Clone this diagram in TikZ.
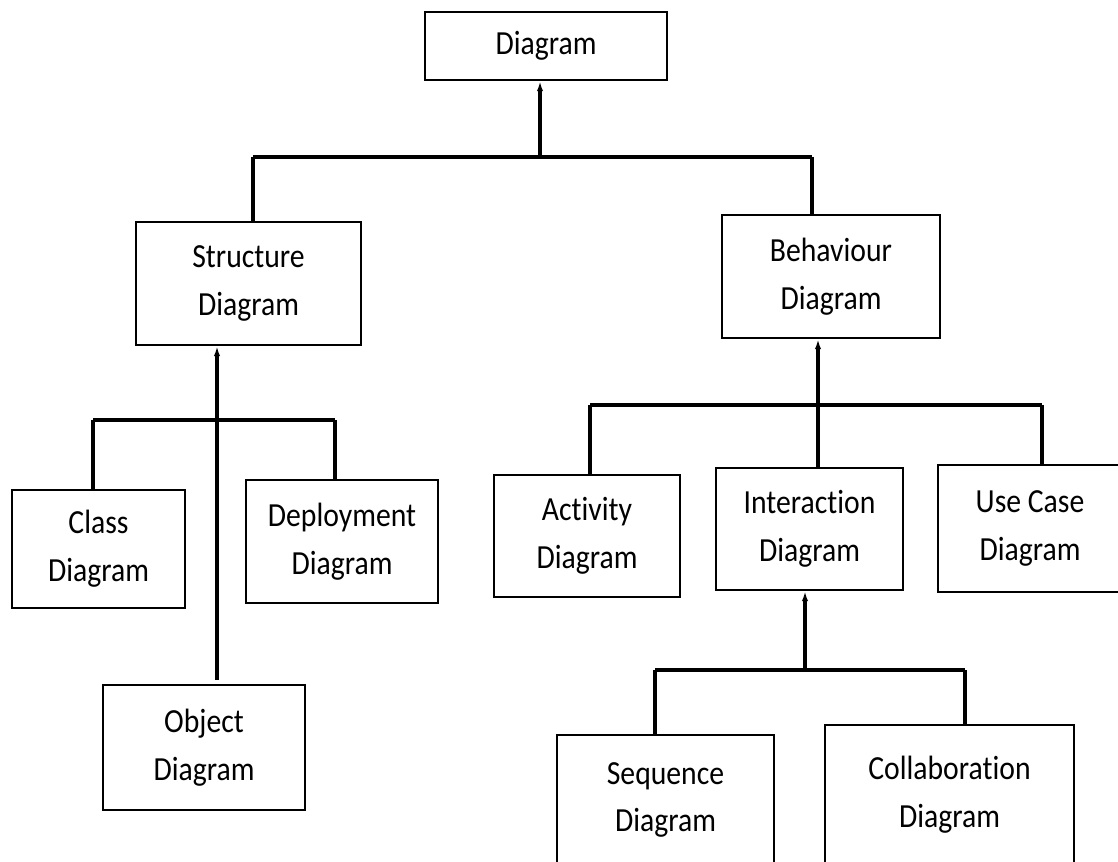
\documentclass[tikz,border=0pt]{standalone}
\usepackage{fontspec}
\setmainfont{Carlito}[FakeStretch=0.88,Ligatures=NoCommon]
\usepackage{tikz}
\usetikzlibrary{calc,arrows.meta}

\tikzset{
  umlbox/.style={draw, line width=0.6mm, align=center, inner sep=0pt,
    font=\fontsize{24}{34}\selectfont},
  bus/.style={line width=1.1mm},
  stem/.style={line width=1mm, -{Latex[length=2.5mm,width=1.6mm]}},
}

\begin{document}
\begin{tikzpicture}[x=0.25mm,y=-0.25mm]
        \useasboundingbox (0,0) rectangle (1118,862);
        % boxes
        \node[umlbox,minimum width=60.5mm,minimum height=17mm] (diag) at (546,46) {Diagram};
        \node[umlbox,minimum width=56.25mm,minimum height=30.75mm] (struct) at (248.5,283.5) {Structure\\Diagram};
        \node[umlbox,minimum width=54.5mm,minimum height=30.75mm] (behav) at (831,276.5) {Behaviour\\Diagram};
        \node[umlbox,minimum width=43.25mm,minimum height=29.5mm] (class) at (98.5,549) {Class\\Diagram};
        \node[umlbox,minimum width=48mm,minimum height=30.75mm] (deploy) at (342,541.5) {Deployment\\Diagram};
        \node[umlbox,minimum width=50.5mm,minimum height=31.25mm] (object) at (204,747.5) {Object\\Diagram};
        \node[umlbox,minimum width=46.5mm,minimum height=30.5mm] (activity) at (587,536) {Activity\\Diagram};
        \node[umlbox,minimum width=46.75mm,minimum height=30.5mm] (inter) at (809.5,529) {Interaction\\Diagram};
        \node[umlbox,minimum width=46mm,minimum height=31.75mm] (usecase) at (1030,528.5) {Use Case\\Diagram};
        \node[umlbox,minimum width=54.25mm,minimum height=32.5mm] (seq) at (665.5,800) {Sequence\\Diagram};
        \node[umlbox,minimum width=62.25mm,minimum height=35mm] (collab) at (949.5,795) {Collaboration\\Diagram};
        % bus junctions
        \coordinate (top) at (540,157);
        \coordinate (topL) at (253,157);
        \coordinate (topR) at (812,157);
        \coordinate (sMid) at (217,420);
        \coordinate (sL) at (93,420);
        \coordinate (sR) at (335,420);
        \coordinate (sEnd) at (217,680);
        \coordinate (bMid) at (818,405);
        \coordinate (bL) at (590,405);
        \coordinate (bR) at (1042,405);
        \coordinate (iMid) at (805,670);
        \coordinate (iL) at (655,670);
        \coordinate (iR) at (965,670);
        % Diagram
        \draw[stem] (top) -- (diag.south -| top);
        \draw[bus] (topL) -- (topR);
        \draw[bus] (topL) -- (struct.north -| topL);
        \draw[bus] (topR) -- (behav.north -| topR);
        % Structure
        \draw[stem] (sEnd) -- (struct.south -| sEnd);
        \draw[bus] (sL) -- (sR);
        \draw[bus] (sL) -- (class.north -| sL);
        \draw[bus] (sR) -- (deploy.north -| sR);
        % Behaviour
        \draw[stem] (inter.north -| bMid) -- (behav.south -| bMid);
        \draw[bus] (bL) -- (bR);
        \draw[bus] (bL) -- (activity.north -| bL);
        \draw[bus] (bR) -- (usecase.north -| bR);
        % Interaction
        \draw[stem] (iMid) -- (inter.south -| iMid);
        \draw[bus] (iL) -- (iR);
        \draw[bus] (iL) -- (seq.north -| iL);
        \draw[bus] (iR) -- (collab.north -| iR);
\end{tikzpicture}
\end{document}
